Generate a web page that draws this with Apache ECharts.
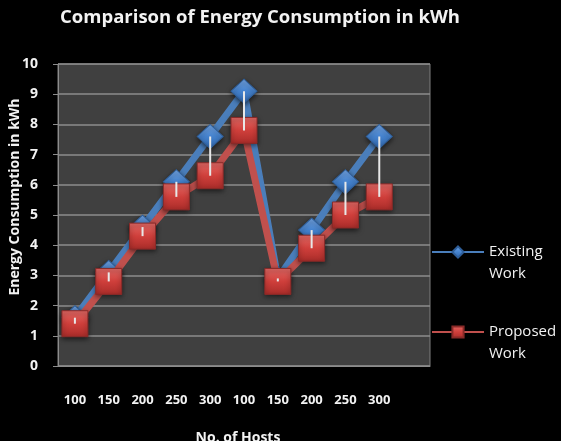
<!DOCTYPE html>
<html><head><meta charset="utf-8">
<script src="https://cdn.jsdelivr.net/npm/echarts@6/dist/echarts.min.js"></script>
<style>html,body{margin:0;padding:0;background:#000;}#c{width:561px;height:441px;}</style>
</head><body><div id="c"></div>
<script>
const categories = ['100','150','200','250','300','100','150','200','250','300'];
const existingWork = [1.6, 3.1, 4.6, 6.1, 7.6, 9.1, 2.9, 4.5, 6.1, 7.6];
const proposedWork = [1.4, 2.8, 4.3, 5.6, 6.3, 7.8, 2.8, 3.9, 5.0, 5.6];
const seriesNames = ['Existing Work', 'Proposed Work'];
const yAxisTitle = 'Energy Consumption in kWh';

const chart = echarts.init(document.getElementById('c'), null, {renderer:'canvas'});
const hiLo = categories.map((c, i) => [i, existingWork[i], proposedWork[i]]);
const fontFam = '"Open Sans", "DejaVu Sans", sans-serif';
const legendText = {color:'#f2f2f2', fontSize:15, fontFamily:fontFam, lineHeight:22};
const legendFmt = n => '\u00a0\n' + n.replace(' ', '\n');
chart.setOption({
  backgroundColor:'#000',
  animation:false,
  title:{text:'Comparison of Energy Consumption in kWh', left:255, textAlign:'center', top:3,
    textStyle:{color:'#f2f2f2', fontSize:18.5, fontWeight:'bold', fontFamily:fontFam}},
  graphic:[{type:'text', x:15, y:197, rotation:Math.PI/2,
    style:{text:yAxisTitle, fill:'#f2f2f2', font:'bold 14px ' + fontFam, align:'center', verticalAlign:'middle'}}],
  legend:[
    {data:[seriesNames[0]], left:426, top:214, orient:'vertical', itemWidth:52, itemHeight:14, itemGap:0,
      formatter:legendFmt, textStyle:legendText, lineStyle:{width:2}},
    {data:[seriesNames[1]], left:426, top:294, orient:'vertical', itemWidth:52, itemHeight:14, itemGap:0,
      formatter:legendFmt, textStyle:legendText, lineStyle:{width:2}}
  ],
  grid:{left:58, right:131, top:64, bottom:75, containLabel:false, outerBoundsMode:'none',
    show:true, backgroundColor:'#404040', borderColor:'#7f7f7f', borderWidth:1},
  xAxis:{type:'category', data:categories, boundaryGap:true, max:categories.length,
    name:'No. of Hosts', nameLocation:'middle', nameGap:65,
    nameTextStyle:{color:'#f2f2f2', fontSize:14, fontWeight:'bold', fontFamily:fontFam, padding:[0,12,0,0]},
    axisLine:{lineStyle:{color:'#8c8c8c'}}, axisTick:{show:false},
    axisLabel:{color:'#f2f2f2', fontSize:13, fontWeight:'bold', fontFamily:fontFam, margin:28,
      formatter:v=>v==null?'':v}},
  yAxis:{type:'value', min:0, max:10, interval:1,
    axisLine:{show:true, lineStyle:{color:'#8c8c8c'}},
    axisTick:{show:true, length:5, lineStyle:{color:'#8c8c8c'}},
    splitLine:{lineStyle:{color:'#8c8c8c', width:1.5}},
    axisLabel:{color:'#f2f2f2', fontSize:14, fontWeight:'bold', fontFamily:fontFam, margin:20}},
  series:[
    {name:seriesNames[0], type:'line', data:existingWork, symbol:'diamond', symbolSize:[26,24],
      lineStyle:{color:'#4a7ebb', width:7},
      itemStyle:{color:new echarts.graphic.LinearGradient(0,0,0,1,[{offset:0,color:'#78aaea'},{offset:0.5,color:'#4583cf'},{offset:1,color:'#2d62a6'}]),
        borderColor:'#2f5f9a', borderWidth:1, shadowColor:'rgba(0,0,0,0.6)', shadowBlur:5, shadowOffsetY:2},
      z:2},
    {name:seriesNames[1], type:'line', data:proposedWork, symbol:'rect', symbolSize:26,
      lineStyle:{color:'#c0504d', width:7},
      itemStyle:{color:new echarts.graphic.LinearGradient(0,0,0,1,[{offset:0,color:'#e46a66'},{offset:0.5,color:'#cf3f3b'},{offset:1,color:'#a92c29'}]),
        borderColor:'#8a2a28', borderWidth:1, shadowColor:'rgba(0,0,0,0.6)', shadowBlur:5, shadowOffsetY:2},
      z:3},
    {name:'hilo', type:'custom', data:hiLo, z:5, silent:true,
      renderItem:(params, api)=>{
        const a = api.coord([api.value(0), api.value(1)]);
        const b = api.coord([api.value(0), api.value(2)]);
        return {type:'line', shape:{x1:a[0], y1:a[1], x2:b[0], y2:b[1]}, style:{stroke:'#e8e8e8', lineWidth:2}};
      }}
  ]
});
</script></body></html>
